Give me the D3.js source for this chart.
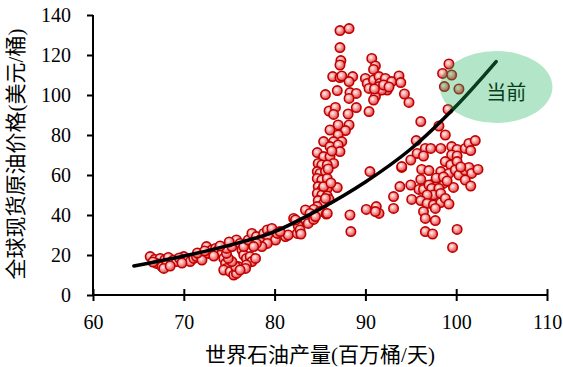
<!DOCTYPE html>
<html><head><meta charset="utf-8">
<script src="https://cdn.jsdelivr.net/npm/d3@7"></script>
<style>body{margin:0;background:#fff}svg{display:block}</style>
</head><body>
<svg id="c" width="563" height="367"></svg>
<script>
const xTicks = [60,70,80,90,100,110];
const yTicks = [0,20,40,60,80,100,120,140];
const xTitle = "世界石油产量(百万桶/天)";
const yTitle = "全球现货原油价格(美元/桶)";
const noteLabel = "当前";
// observed points: [production, price]
const lowCluster = [[66.3,19.2],[66.8,17.8],[67.4,18.3],[67.9,17.5],[68.3,18.8],[67.0,15.8],[67.6,14.2],[68.1,15],[68.7,16.7],[67.8,13.3],[68.9,17.5],[69.2,16.7],[70.0,19.2],[70.3,17.5],[70.7,16.7],[71.1,18.3],[71.4,19.2],[71.8,20],[72.0,17.5],[72.5,24.2],[72.7,20.8],[73.1,22.5],[73.5,23.3],[73.8,22.5],[74.2,20.8],[74.4,18.3],[74.6,15.8],[74.7,13.3],[74.4,12.5],[75.1,11.7],[75.5,10],[75.8,10.8],[76.0,14.2],[75.7,14.2],[75.3,16.7],[74.9,18.3],[74.7,20.8],[74.7,23.3],[75.3,24.2],[75.8,27.5],[76.2,25.8],[76.4,22.5],[76.6,20],[76.9,18.3],[77.3,19.2],[77.5,16.7],[77.9,18.3],[76.9,15],[76.8,13.3],[76.2,12.5],[76.6,24.2],[77.1,27.5],[77.5,30.8],[78.0,29.2],[78.4,27.5],[78.8,30.8],[79.2,32.5],[79.3,29.2],[79.7,33.3],[80.1,27.5],[80.3,30.8],[79.2,25.8],[78.6,24.2],[78.0,25.8],[77.7,24.2],[81.2,29.2],[81.5,30],[82.1,38.3],[82.6,35],[82.5,30.8],[80.6,31.7],[66.6,16.5],[69.5,18.5],[69.8,16],[68.5,14.5],[71.5,21],[72.3,22],[73.3,19.5],[74.0,24.5],[75.0,26.5]];
const riseCluster = [[87.0,85],[88.2,85],[86.1,82.5],[87.8,82.2],[87.0,80],[85.4,76.7],[86.5,76.7],[87.4,76.7],[86.1,74.2],[87.0,75],[87.2,71.7],[84.7,71.2],[85.4,69.2],[86.1,69.2],[86.5,65.8],[84.8,65.8],[85.2,65],[85.8,65],[84.7,61.7],[85.0,60.8],[85.6,61.7],[84.7,58.3],[85.2,57.5],[85.8,58.3],[84.8,54.2],[85.2,52.5],[85.8,53.3],[84.7,50.8],[85.2,50],[85.8,49.5],[86.9,53.7],[86.0,47.8],[84.8,47.2],[85.4,45.8],[84.7,44.2],[84.3,42.8],[83.4,42.5],[83.9,40.8],[84.5,40],[85.0,41.7],[85.7,40.5],[82.6,34.5],[82.8,32.5],[82.9,30.5],[83.7,35.8],[84.3,37.8],[85.4,54.2],[85.6,48.3],[85.8,40.8],[84.5,39.2],[82.3,37.5],[86.3,72],[85.9,63],[86.2,56]];
const highCluster = [[87.2,132.2],[88.2,133.2],[87.2,123.7],[87.3,117.2],[87.2,115],[90.7,118.3],[91.1,114.5],[90.9,112.8],[86.4,109.2],[87.2,108.7],[87.4,109.5],[88.6,109.2],[88.2,106.7],[90.0,108.3],[90.2,105.8],[90.4,103.3],[90.9,107.5],[91.5,109.2],[91.6,105.8],[92.2,108.3],[92.4,102.5],[92.9,106.7],[93.7,109.5],[93.9,106.2],[91.5,104.2],[91.3,101.7],[91.8,102.5],[92.0,105],[91.1,99.2],[90.9,97.5],[86.9,102.2],[85.6,100.2],[88.3,101.2],[89.0,100.8],[88.2,98.3],[94.3,100.5],[94.8,96.3],[86.0,92],[86.7,93.8],[86.5,90.3],[88.1,90.5],[89.0,93.7],[90.4,91.7],[92.6,104],[91.0,103]];
const midScatter = [[90.5,61.7],[88.3,40],[88.4,31.7],[90.1,42.8],[91.2,44.2],[91.5,40.8],[91.1,41.7],[93.1,49.2],[93.1,43.3],[94.0,63.8],[95.0,67.5],[95.6,77.2],[95.7,70.8],[93.8,54.2],[95.0,55],[95.1,47.8]];
const rightCluster = [[99.1,92.8],[96.1,86.7],[98.1,84.5],[98.8,80],[96.6,73.3],[97.2,73.3],[98.3,73.3],[99.5,74.2],[100.1,72.8],[101.0,73.3],[101.4,75.8],[102.1,77.2],[101.6,72.2],[96.4,69.5],[99.5,70],[100.1,69.5],[94.0,64.2],[96.2,62.8],[97.0,62.2],[98.3,61.7],[98.8,66.7],[99.4,65],[100.1,66.7],[99.2,60.8],[99.9,62.5],[100.3,60],[101.0,62.2],[101.4,63.8],[101.7,60.8],[102.4,62.8],[101.0,57.5],[99.7,53.8],[101.6,54.5],[98.6,55.8],[97.7,56.7],[96.1,57.8],[95.9,52.8],[96.4,52.8],[97.0,55],[97.3,53.3],[98.1,53.3],[97.5,50],[98.3,50.8],[96.8,50],[96.1,47.2],[96.8,45.8],[97.5,45],[98.3,46.2],[98.8,48.3],[99.2,45.5],[97.7,43.3],[96.4,41.7],[96.6,38.3],[97.7,37.2],[96.6,31.7],[97.4,30.5],[100.1,32.8],[99.6,23.8],[97.8,58.5],[98.6,59],[99.0,57],[100.5,64]];
const currentCluster = [[99.2,115.5],[98.5,110.8],[99.5,110],[98.7,104.2],[100.3,103]];
// fitted trend line
const trendX = [64.5,70,75,80,85,90,95,100,104.4];
const trendY = [14.5,19.5,24.8,31.7,43,56.5,73,94.5,116.7];
// highlight ellipse (data units)
const noteCenter = [104.4,104];
const noteRadius = [6.2,18];

const svg = d3.select("#c");
const x = d3.scaleLinear().domain([60,110]).range([93,547]);
const y = d3.scaleLinear().domain([0,140]).range([295,15]);

const defs = svg.append("defs");
const g = defs.append("radialGradient").attr("id","ball").attr("cx","40%").attr("cy","38%").attr("r","65%");
g.append("stop").attr("offset","0%").attr("stop-color","#fff0f0");
g.append("stop").attr("offset","45%").attr("stop-color","#f6a0a0");
g.append("stop").attr("offset","100%").attr("stop-color","#e23a3a");

const tickFont = "'Liberation Serif','Times New Roman',serif";
const titleFont = "'Liberation Serif','Noto Sans CJK SC',serif";

// axes
const xAxis = svg.append("g").attr("transform","translate(0,295)")
  .call(d3.axisBottom(x).tickValues(xTicks).tickSize(6).tickPadding(14).tickFormat(d3.format("d")));
xAxis.selectAll(".tick line").attr("y1",-6).attr("y2",6);
const yAxis = svg.append("g").attr("transform","translate(93,0)")
  .call(d3.axisLeft(y).tickValues(yTicks).tickSize(6).tickPadding(16).tickFormat(d3.format("d")));
[xAxis,yAxis].forEach(a=>{
  a.select(".domain").attr("stroke","#000").attr("stroke-width",2);
  a.selectAll(".tick line").attr("stroke","#000").attr("stroke-width",2);
  a.selectAll(".tick text").attr("fill","#000").style("font-family",tickFont).style("font-size","20px");
});
xAxis.select(".domain").attr("d","M93,0H547");
yAxis.select(".domain").attr("d","M0,295V15");

// titles
svg.append("text").attr("x",320).attr("y",362).attr("text-anchor","middle")
  .style("font-family",titleFont).style("font-size","21px").attr("fill","#000").text(xTitle);
svg.append("text").attr("transform","translate(23,154) rotate(-90)").attr("text-anchor","middle")
  .style("font-family",titleFont).style("font-size","21px").attr("fill","#000").text(yTitle);

// points
const allPts = [].concat(lowCluster, riseCluster, highCluster, midScatter, rightCluster, currentCluster);
svg.append("g").selectAll("circle").data(allPts).join("circle")
  .attr("cx",d=>x(d[0])).attr("cy",d=>y(d[1])).attr("r",4.7)
  .attr("fill","url(#ball)").attr("stroke","#c00000").attr("stroke-width",1.6);

// trend line
const line = d3.line().x(d=>x(d[0])).y(d=>y(d[1])).curve(d3.curveCatmullRom);
svg.append("path").datum(d3.zip(trendX,trendY)).attr("d",line)
  .attr("fill","none").attr("stroke","#000").attr("stroke-width",3.5).attr("stroke-linecap","round");

// note text and overlay ellipse
svg.append("text").attr("x",x(noteCenter[0])+10).attr("y",y(noteCenter[1])+13)
  .style("font-family","'Noto Sans CJK SC',sans-serif").style("font-size","20px").attr("fill","#000")
  .attr("text-anchor","middle").text(noteLabel);
svg.append("ellipse").attr("cx",x(noteCenter[0])).attr("cy",y(noteCenter[1]))
  .attr("rx",x(noteCenter[0]+noteRadius[0])-x(noteCenter[0])).attr("ry",y(0)-y(noteRadius[1]))
  .attr("fill","#1bb45a").attr("opacity",0.333);
</script>
</body></html>
